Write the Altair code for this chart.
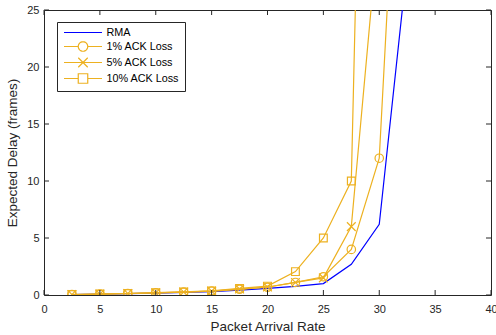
import math
import altair as alt
import pandas as pd

# ---- data ----
rate = [2.5, 5, 7.5, 10, 12.5, 15, 17.5, 20, 22.5, 25, 27.5, 30, 32.5]
rma = [0.03, 0.07, 0.12, 0.17, 0.23, 0.30, 0.42, 0.58, 0.75, 1.0, 2.7, 6.2, 29.0]
ack1 = [0.04, 0.08, 0.13, 0.19, 0.26, 0.34, 0.50, 0.68, 1.1, 1.6, 4.0, 12.0, 58.0]
ack5 = [0.04, 0.08, 0.13, 0.19, 0.26, 0.34, 0.52, 0.70, 1.1, 1.5, 6.0, 33.0]
ack10 = [0.04, 0.08, 0.13, 0.20, 0.27, 0.36, 0.58, 0.78, 2.05, 5.0, 10.0, 115.0]

series_names = ["RMA", "1% ACK Loss", "5% ACK Loss", "10% ACK Loss"]
series_colors = ["#0000FF", "#EDB120", "#EDB120", "#EDB120"]
x_ticks = [0, 5, 10, 15, 20, 25, 30, 35, 40]
y_ticks = [0, 5, 10, 15, 20, 25]

rows = []
for name, vals in zip(series_names, [rma, ack1, ack5, ack10]):
    for i, v in enumerate(vals):
        rows.append({"series": name, "rate": rate[i], "delay": v})
df = pd.DataFrame(rows)
legend_df = pd.DataFrame({"series": series_names})
xt_df = pd.DataFrame({"rate": x_ticks})
yt_df = pd.DataFrame({"delay": y_ticks})

W, H = 447, 285
FONT = "Liberation Sans"
AX = "#262626"
ORANGE = "#EDB120"

xs = alt.Scale(domain=[0, 40], nice=False, zero=False)
ys = alt.Scale(domain=[0, 25], nice=False, zero=False)

# legend symbol glyphs: line with marker in the middle
circ = "M" + "L".join(
    f"{math.cos(2 * math.pi * k / 24):.3f},{math.sin(2 * math.pi * k / 24):.3f}" for k in range(24)
) + "Z"
legend_paths = [
    "M-4,0L4,0",
    "M-4,0L-1,0M1,0L4,0" + circ,
    "M-4,0L4,0M-1,-1L1,1M-1,1L1,-1",
    "M-4,0L-1,0M1,0L4,0M-1,-1L1,-1L1,1L-1,1Z",
]

x_enc = alt.X("rate:Q", scale=xs,
              axis=alt.Axis(values=x_ticks, title="Packet Arrival Rate", tickSize=0,
                            labelFlush=False, labelPadding=8, titlePadding=5,
                            domain=False, grid=False))
y_enc = alt.Y("delay:Q", scale=ys,
              axis=alt.Axis(values=y_ticks, title="Expected Delay (frames)", tickSize=0,
                            labelFlush=False, labelPadding=5, titlePadding=7,
                            domain=False, grid=False))

def line(name, color, first=False):
    return alt.Chart(df).transform_filter(alt.datum.series == name).mark_line(
        clip=True, strokeWidth=1.2, color=color
    ).encode(x=x_enc if first else alt.X("rate:Q"), y=y_enc if first else alt.Y("delay:Q"))

l0 = line("RMA", "#0000FF", first=True)
l1 = line("1% ACK Loss", ORANGE)
l5 = line("5% ACK Loss", ORANGE)
l10 = line("10% ACK Loss", ORANGE)

def pts(name, shape, size):
    return alt.Chart(df).transform_filter(alt.datum.series == name).mark_point(
        shape=shape, size=size, filled=False, clip=True, color=ORANGE, strokeWidth=1.2, opacity=1
    ).encode(x=alt.X("rate:Q"), y=alt.Y("delay:Q"))

p1 = pts("1% ACK Loss", "circle", 71)
p5 = pts("5% ACK Loss", "M-1,-1L1,1M-1,1L1,-1", 76)
p10 = pts("10% ACK Loss", "square", 60)

leg_props = dict(
    title=None, orient="none", legendX=13, legendY=12, padding=5,
    strokeColor=AX, fillColor="white",
    symbolSize=90, symbolOffset=15.5, symbolStrokeWidth=1.2,
    labelOffset=18, labelFont=FONT, labelFontSize=10.8, labelColor="black",
    rowPadding=1, columnPadding=0,
)

leg = alt.Chart(legend_df).mark_point(filled=False, clip=True, strokeWidth=1.2, opacity=1).encode(
    x=alt.value(-500), y=alt.value(-500),
    color=alt.Color("series:N", sort=series_names,
                    scale=alt.Scale(domain=series_names, range=series_colors),
                    legend=alt.Legend(**leg_props)),
    shape=alt.Shape("series:N", sort=series_names,
                    scale=alt.Scale(domain=series_names, range=legend_paths),
                    legend=alt.Legend(**leg_props)),
)

tick_b = alt.Chart(xt_df).mark_rule(color=AX, strokeWidth=1).encode(
    x=alt.X("rate:Q"), y=alt.value(H), y2=alt.value(H - 5))
tick_t = alt.Chart(xt_df).mark_rule(color=AX, strokeWidth=1).encode(
    x=alt.X("rate:Q"), y=alt.value(0), y2=alt.value(5))
tick_l = alt.Chart(yt_df).mark_rule(color=AX, strokeWidth=1).encode(
    y=alt.Y("delay:Q"), x=alt.value(0), x2=alt.value(5))
tick_r = alt.Chart(yt_df).mark_rule(color=AX, strokeWidth=1).encode(
    y=alt.Y("delay:Q"), x=alt.value(W), x2=alt.value(W - 5))

chart = alt.layer(l0, l1, l5, l10, p1, p5, p10, tick_b, tick_t, tick_l, tick_r, leg).properties(
    width=W, height=H,
    autosize=alt.AutoSizeParams(type="none"),
    padding={"left": 44, "top": 10, "right": 5, "bottom": 40},
    background="white",
).configure_view(
    stroke=AX, strokeWidth=1
).configure_axis(
    labelFont=FONT, labelFontSize=11, labelColor=AX,
    titleFont=FONT, titleFontSize=13.5, titleColor=AX, titleFontWeight="normal",
)

chart.save("out.html", embed_options={"renderer": "svg", "actions": False})
